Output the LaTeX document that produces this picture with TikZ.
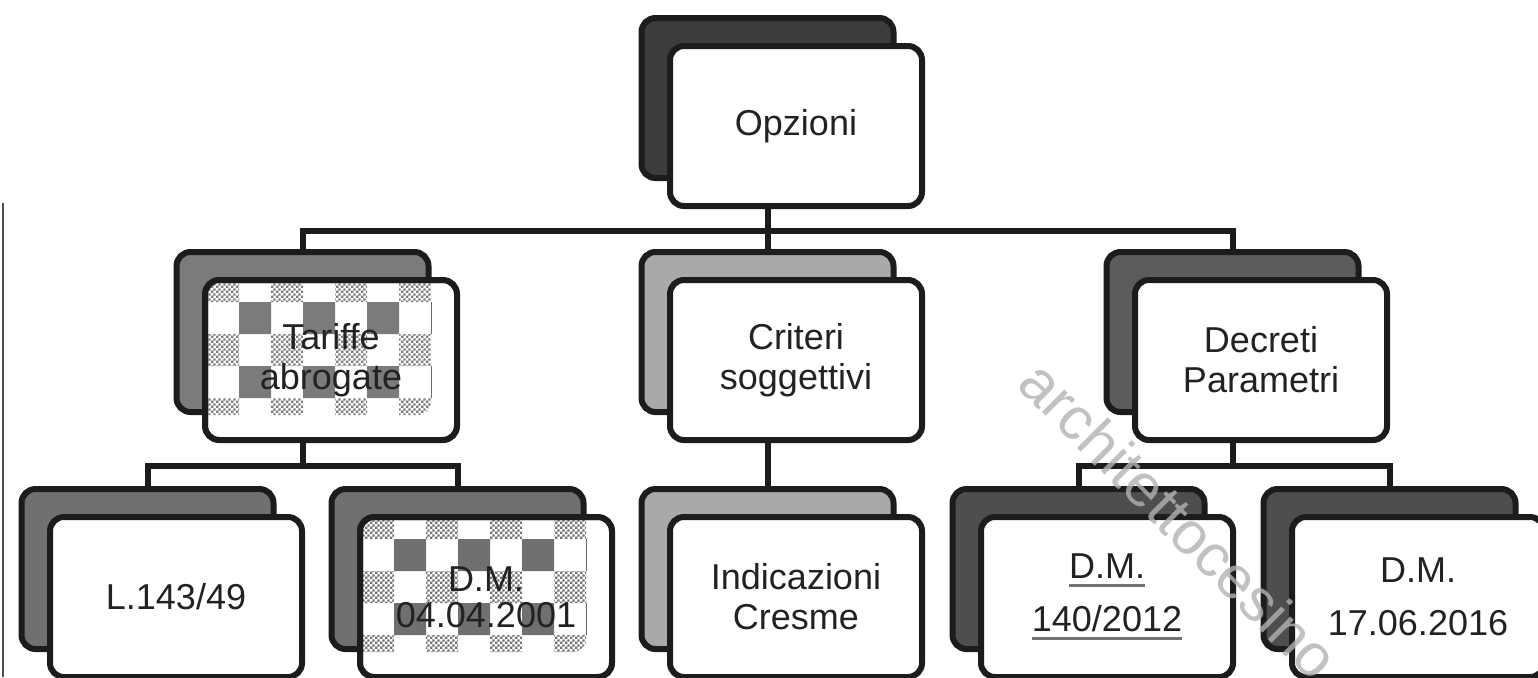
\documentclass[tikz,border=0pt]{standalone}
\usepackage{fontspec}
\setmainfont{Liberation Sans}
\usetikzlibrary{patterns,calc}
\definecolor{rim}{HTML}{1C1C1C}
\definecolor{ink}{HTML}{222222}
\definecolor{shOpz}{HTML}{3C3C3C}
\definecolor{shTar}{HTML}{7B7B7B}
\definecolor{shCri}{HTML}{A9A9A9}
\definecolor{shDec}{HTML}{5C5C5C}
\definecolor{shLeg}{HTML}{707070}
\definecolor{shDm}{HTML}{4E4E4E}
\pgfdeclarepatternformonly{finechecks}{\pgfqpoint{0pt}{0pt}}{\pgfqpoint{2.4pt}{2.4pt}}{\pgfqpoint{2.4pt}{2.4pt}}{%
  \pgfpathrectangle{\pgfqpoint{0pt}{0pt}}{\pgfqpoint{1.2pt}{1.2pt}}%
  \pgfpathrectangle{\pgfqpoint{1.2pt}{1.2pt}}{\pgfqpoint{1.2pt}{1.2pt}}%
  \pgfusepath{fill}}
\newcommand{\ulined}[1]{\leavevmode\setbox0=\hbox{#1}\rlap{\textcolor{black!55}{\rule[-4pt]{\wd0}{1.3pt}}}\box0}
\tikzset{
  boxbase/.style={draw=rim, line width=3pt, rounded corners=7pt, minimum width=126pt, minimum height=80pt, inner sep=0pt},
  shadowbox/.style={boxbase, fill=#1},
  frontbox/.style={boxbase, fill=white, text=ink, align=center, font=\fontsize{18}{20}\selectfont},
  checker/.style={path picture={
    \coordinate (o) at (path picture bounding box.north west);
    \begin{scope}[sharp corners]
      \begin{scope}
        \clip \foreach \i in {1,3,5,7} {\foreach \j in {1,3,5} {($(o)+({(1+16*\i)*1pt},{(5-16*\j)*1pt})$) rectangle ++(16pt,-16pt)}};
        \path[fill=#1, draw=rim, line width=3pt, rounded corners=7pt] ($(o)+(-14.25pt,14pt)$) rectangle ($(o)+(111.75pt,-66pt)$);
      \end{scope}
      \begin{scope}
        \clip[rounded corners=7pt] ($(o)+(-15.75pt,15.5pt)$) rectangle ($(o)+(113.25pt,-67.5pt)$);
        \clip \foreach \i in {0,2,4,6} {\foreach \j in {0,2,4} {($(o)+({(1+16*\i)*1pt},{(5-16*\j)*1pt})$) rectangle ++(16pt,-16pt)}};
        \fill[pattern=finechecks, pattern color=#1] ($(o)+(-20pt,20pt)$) rectangle ($(o)+(140pt,-100pt)$);
      \end{scope}
      \draw[rim, line width=3pt, rounded corners=7pt] (o) rectangle ($(o)+(126pt,-80pt)$);
    \end{scope}}},
  link/.style={draw=rim, line width=3pt},
  wmark/.style={text=black!30, opacity=0.8, font=\fontsize{30}{30}\selectfont, rotate=-45, anchor=west}
}
\begin{document}
\begin{tikzpicture}[x=0.5pt, y=-0.5pt]
\path[use as bounding box] (0,0) rectangle (1538,677);
\clip (0,0) rectangle (1538,677);
\draw[black!70, line width=1pt] (3,203) -- (3,677);
\coordinate (bar1) at (0,231);
\coordinate (bar2) at (0,466);

\node[shadowbox=shOpz] (opzsh) at (767.5,98) {};
\node[frontbox] (opz) at (796,126) {Opzioni};

\node[shadowbox=shTar] (tarsh) at (302.5,332) {};
\node[frontbox, checker=shTar] (tar) at (331,360) {Tariffe\\abrogate};
\node[shadowbox=shCri] (crish) at (767.5,332) {};
\node[frontbox] (cri) at (796,360) {Criteri\\soggettivi};
\node[shadowbox=shDec] (decsh) at (1232.5,332) {};
\node[frontbox] (dec) at (1261,360) {Decreti\\Parametri};

\node[shadowbox=shLeg] (legsh) at (147.5,569) {};
\node[frontbox] (leg) at (176,597) {L.143/49};
\node[shadowbox=shLeg] (dmash) at (457.5,569) {};
\node[frontbox, checker=shLeg] (dma) at (486,597) {D.M.\\[-2pt]04.04.2001};
\node[shadowbox=shCri] (cresh) at (767.5,569) {};
\node[frontbox] (cre) at (796,597) {Indicazioni\\Cresme};
\node[shadowbox=shDm] (dmbsh) at (1078.5,569) {};
\node[frontbox] (dmb) at (1107,597) {\ulined{D.M.}\\[6.5pt]\ulined{140/2012}};
\node[shadowbox=shDm] (dmcsh) at (1389.5,569) {};
\node[frontbox] (dmc) at (1418,597) {D.M.\\[6.5pt]17.06.2016};

\draw[link] (opzsh |- opz.south) -- (crish.north);
\draw[link] (tarsh.north) -- (tarsh |- bar1) -- (decsh |- bar1) -- (decsh.north);
\draw[link] (tarsh |- tar.south) -- (tarsh |- bar2);
\draw[link] (legsh.north) -- (legsh |- bar2) -- (dmash |- bar2) -- (dmash.north);
\draw[link] (crish |- cri.south) -- (cresh.north);
\draw[link] (decsh |- dec.south) -- (decsh |- bar2);
\draw[link] (dmbsh.north) -- (dmbsh |- bar2) -- (dmcsh |- bar2) -- (dmcsh.north);

\node[wmark] (wm) at (1026,366) {architettocesino};
\end{tikzpicture}
\end{document}
